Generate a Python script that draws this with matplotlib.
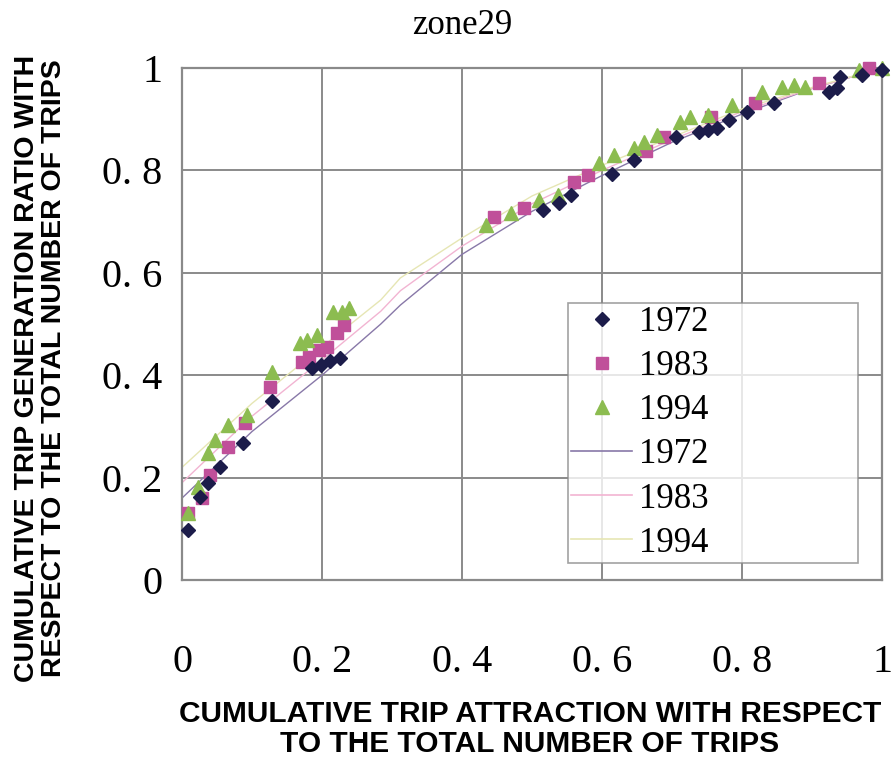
import matplotlib
matplotlib.use("Agg")
import matplotlib.pyplot as plt

# ---- data ----
x1972 = [0.009, 0.026, 0.037, 0.054, 0.087, 0.128, 0.186, 0.198, 0.212, 0.226,
         0.516, 0.539, 0.556, 0.614, 0.646, 0.706, 0.738, 0.752, 0.764, 0.781,
         0.807, 0.845, 0.924, 0.936, 0.940, 0.971, 1.000]
y1972 = [0.098, 0.162, 0.190, 0.220, 0.268, 0.350, 0.414, 0.420, 0.428, 0.434,
         0.723, 0.736, 0.752, 0.793, 0.820, 0.865, 0.875, 0.879, 0.883, 0.898,
         0.914, 0.932, 0.953, 0.960, 0.982, 0.986, 0.996]

x1983 = [0.009, 0.029, 0.040, 0.066, 0.090, 0.126, 0.172, 0.181, 0.195, 0.207,
         0.222, 0.231, 0.446, 0.489, 0.560, 0.580, 0.663, 0.689, 0.756, 0.818,
         0.910, 0.981]
y1983 = [0.131, 0.160, 0.205, 0.260, 0.307, 0.377, 0.426, 0.436, 0.449, 0.455,
         0.482, 0.498, 0.709, 0.727, 0.777, 0.791, 0.837, 0.865, 0.904, 0.932,
         0.971, 1.000]

x1994 = [0.009, 0.023, 0.037, 0.047, 0.066, 0.093, 0.129, 0.169, 0.179, 0.193,
         0.215, 0.229, 0.238, 0.434, 0.470, 0.510, 0.537, 0.595, 0.617, 0.646,
         0.660, 0.678, 0.711, 0.725, 0.752, 0.785, 0.828, 0.857, 0.874, 0.890,
         0.967, 1.000]
y1994 = [0.131, 0.182, 0.248, 0.273, 0.303, 0.322, 0.406, 0.463, 0.469, 0.479,
         0.523, 0.523, 0.531, 0.693, 0.717, 0.742, 0.752, 0.814, 0.830, 0.844,
         0.855, 0.869, 0.895, 0.904, 0.908, 0.928, 0.953, 0.963, 0.967, 0.963,
         0.996, 1.000]

line_x = [0.0, 0.1, 0.2, 0.284, 0.312, 0.4, 0.5, 0.6, 0.7, 0.8, 0.9, 1.0]
line1972 = [0.16, 0.29, 0.40, 0.50, 0.537, 0.636, 0.72, 0.79, 0.855, 0.91, 0.96, 1.0]
line1983 = [0.19, 0.32, 0.43, 0.525, 0.565, 0.652, 0.735, 0.80, 0.86, 0.915, 0.96, 1.0]
line1994 = [0.22, 0.345, 0.455, 0.547, 0.590, 0.668, 0.75, 0.81, 0.865, 0.92, 0.962, 1.0]

xticks = [0, 0.2, 0.4, 0.6, 0.8, 1]
xticklabels = ["0", "0. 2", "0. 4", "0. 6", "0. 8", "1"]
yticks = [0, 0.2, 0.4, 0.6, 0.8, 1]
yticklabels = ["0", "0. 2", "0. 4", "0. 6", "0. 8", "1"]

# ---- figure ----
fig = plt.figure(figsize=(8.93, 7.59), dpi=100)
ax = fig.add_axes([182/893, 179/759, 700/893, 512/759])

serif = ["Liberation Serif", "DejaVu Serif"]
sans = ["Liberation Sans", "DejaVu Sans"]

l1, = ax.plot(line_x, line1972, color="#8878a8", lw=1.0, zorder=2)
l2, = ax.plot(line_x, line1983, color="#f2b4d2", lw=1.0, zorder=2)
l3, = ax.plot(line_x, line1994, color="#e6e6b4", lw=1.0, zorder=2)

m1, = ax.plot(x1972, y1972, ls="none", marker="D", ms=7.5, color="#1c1c4a", zorder=4, clip_on=False)
m2, = ax.plot(x1983, y1983, ls="none", marker="s", ms=8.5, color="#c0509a", zorder=3, clip_on=False)
m3, = ax.plot(x1994, y1994, ls="none", marker="^", ms=10, color="#8cbc50", zorder=3.5, clip_on=False)

ax.set_xlim(0, 1)
ax.set_ylim(0, 1)
ax.set_xticks(xticks)
ax.set_xticklabels(xticklabels, fontfamily=serif, fontsize=29)
ax.set_yticks(yticks)
ax.set_yticklabels(yticklabels, fontfamily=serif, fontsize=29)
ax.tick_params(length=0)
ax.tick_params(axis="y", pad=14)
ax.tick_params(axis="x", pad=46)
ax.grid(True, color="#8a8a8a", lw=1.4, zorder=0)
ax.set_axisbelow(True)
for s in ax.spines.values():
    s.set_color("#8a8a8a")
    s.set_linewidth(1.6)

fig.text(530/893, 1 - 729/759, "CUMULATIVE TRIP ATTRACTION WITH RESPECT\nTO THE TOTAL NUMBER OF TRIPS",
         ha="center", va="center", multialignment="center",
         fontfamily=sans, fontweight="bold", fontsize=21.5, linespacing=1.05)
fig.text(41/893, 1 - 368/759, "CUMULATIVE TRIP GENERATION RATIO WITH\nRESPECT TO THE TOTAL NUMBER OF TRIPS",
         ha="center", va="center", rotation=90, multialignment="center",
         fontfamily=sans, fontweight="bold", fontsize=20.5, linespacing=1.05)

fig.text(462/893, 1 - 26/759, "zone29", ha="center", va="center",
         fontfamily=serif, fontsize=25)

leg = ax.legend([m1, m2, m3, l1, l2, l3], ["1972", "1983", "1994", "1972", "1983", "1994"],
                loc="lower left", bbox_to_anchor=(0.551, 0.033, 0.415, 0.510), mode="expand",
                prop={"family": serif, "size": 25}, frameon=True, fancybox=False,
                edgecolor="#8a8a8a", handlelength=1.75, handletextpad=0.2,
                labelspacing=0.32, borderpad=0.1, borderaxespad=0)
leg.get_frame().set_linewidth(1.2)
for lh in leg.legend_handles[3:]:
    lh.set_linewidth(1.2)

fig.savefig("out.png", dpi=100)
